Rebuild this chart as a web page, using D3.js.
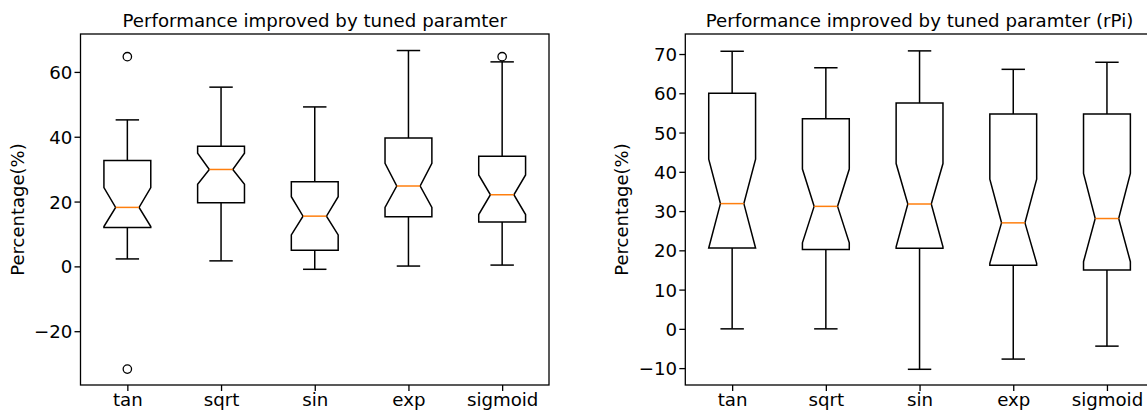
<!DOCTYPE html>
<html>
<head>
<meta charset="utf-8">
<script src="https://cdn.jsdelivr.net/npm/d3@7"></script>
<style>
  html, body { margin: 0; padding: 0; background: #fff; }
  svg { display: block; font-family: "DejaVu Sans", sans-serif; }
</style>
</head>
<body>
<svg id="chart" width="1147" height="410"></svg>
<script>
// ---------- data ----------
const categories = ["tan", "sqrt", "sin", "exp", "sigmoid"];

// Left panel: "Performance improved by tuned paramter"
const leftTitle = "Performance improved by tuned paramter";
const leftWhiskerLow  = [2.3, 1.7, -0.9, 0.1, 0.4];
const leftQ1          = [12.0, 19.6, 5.0, 15.3, 13.7];
const leftNotchLow    = [12.3, 25.3, 9.7, 18.2, 16.0];
const leftMedian      = [18.2, 29.9, 15.5, 24.8, 22.1];
const leftNotchHigh   = [24.3, 34.9, 21.5, 31.8, 28.2];
const leftQ3          = [32.7, 37.1, 26.1, 39.6, 34.0];
const leftWhiskerHigh = [45.2, 55.3, 49.2, 66.6, 63.1];
const leftOutliers    = [[64.7, -31.7], [], [], [], [64.7]];
const leftYTicks      = [-20, 0, 20, 40, 60];
const leftYLim        = [-36.6, 71.7];

// Right panel: "Performance improved by tuned paramter (rPi)"
const rightTitle = "Performance improved by tuned paramter (rPi)";
const rightWhiskerLow  = [0.0, 0.0, -10.3, -7.7, -4.4];
const rightQ1          = [20.6, 20.2, 20.5, 16.2, 15.0];
const rightNotchLow    = [20.6, 21.9, 20.9, 16.7, 17.1];
const rightMedian      = [31.9, 31.2, 31.8, 27.0, 28.1];
const rightNotchHigh   = [43.2, 40.7, 42.1, 38.1, 39.6];
const rightQ3          = [60.0, 53.5, 57.5, 54.7, 54.7];
const rightWhiskerHigh = [70.7, 66.5, 70.8, 66.1, 67.9];
const rightOutliers    = [[], [], [], [], []];
const rightYTicks      = [-10, 0, 10, 20, 30, 40, 50, 60, 70];
const rightYLim        = [-14.3, 75.1];

const yLabel = "Percentage(%)";

// ---------- drawing ----------
const svg = d3.select("#chart");
const plotTop = 34, plotBottom = 385;
const fontPx = "18.2px";

function panel(opts) {
  const { left, right, title, wl, q1, nl, med, nh, q3, wh, outl, yTicks, yLim } = opts;
  const g = svg.append("g");
  const x = d3.scaleLinear().domain([0.5, categories.length + 0.5]).range([left, right]);
  const y = d3.scaleLinear().domain(yLim).range([plotBottom, plotTop]);
  const boxW = 0.5, capW = 0.25;

  const data = categories.map((c, i) => ({
    c, pos: i + 1, wl: wl[i], q1: q1[i], nl: nl[i], med: med[i], nh: nh[i], q3: q3[i], wh: wh[i], out: outl[i]
  }));

  // y axis
  const yAxis = d3.axisLeft(y).tickValues(yTicks).tickSize(6).tickPadding(2.2).tickFormat(d3.format("d"));
  const ya = g.append("g").attr("transform", `translate(${left},0)`).call(yAxis);
  // x axis
  const xAxis = d3.axisBottom(x).tickValues(data.map(d => d.pos)).tickSize(6).tickPadding(1.8)
    .tickFormat((d, i) => categories[i]);
  const xa = g.append("g").attr("transform", `translate(0,${plotBottom})`).call(xAxis);
  [ya, xa].forEach(a => {
    a.select(".domain").remove();
    a.selectAll(".tick line").attr("stroke", "#000").attr("stroke-width", 1.3);
    a.selectAll(".tick text").attr("fill", "#000").style("font-size", fontPx)
      .style("font-family", "'DejaVu Sans', sans-serif");
  });
  ya.selectAll(".tick text").attr("dy", "0.36em");

  // frame
  g.append("rect").attr("x", left).attr("y", plotTop).attr("width", right - left).attr("height", plotBottom - plotTop)
    .attr("fill", "none").attr("stroke", "#000").attr("stroke-width", 1.3);

  // boxes
  const bx = g.selectAll(".box").data(data).join("g").attr("class", "box");
  const line = d3.line();
  // whiskers
  bx.append("line").attr("x1", d => x(d.pos)).attr("x2", d => x(d.pos))
    .attr("y1", d => y(d.q1)).attr("y2", d => y(d.wl)).attr("stroke", "#000").attr("stroke-width", 1.5);
  bx.append("line").attr("x1", d => x(d.pos)).attr("x2", d => x(d.pos))
    .attr("y1", d => y(d.q3)).attr("y2", d => y(d.wh)).attr("stroke", "#000").attr("stroke-width", 1.5);
  // caps
  bx.append("line").attr("x1", d => x(d.pos - capW / 2)).attr("x2", d => x(d.pos + capW / 2))
    .attr("y1", d => y(d.wl)).attr("y2", d => y(d.wl)).attr("stroke", "#000").attr("stroke-width", 1.5);
  bx.append("line").attr("x1", d => x(d.pos - capW / 2)).attr("x2", d => x(d.pos + capW / 2))
    .attr("y1", d => y(d.wh)).attr("y2", d => y(d.wh)).attr("stroke", "#000").attr("stroke-width", 1.5);
  // notched box
  bx.append("path").attr("d", d => {
    const l = x(d.pos - boxW / 2), r = x(d.pos + boxW / 2);
    const cl = x(d.pos - boxW / 4), cr = x(d.pos + boxW / 4);
    return line([
      [l, y(d.q1)], [l, y(d.nl)], [cl, y(d.med)], [l, y(d.nh)], [l, y(d.q3)],
      [r, y(d.q3)], [r, y(d.nh)], [cr, y(d.med)], [r, y(d.nl)], [r, y(d.q1)]
    ]) + "Z";
  }).attr("fill", "none").attr("stroke", "#000").attr("stroke-width", 1.5).attr("stroke-linejoin", "miter");
  // median
  bx.append("line").attr("x1", d => x(d.pos - boxW / 4)).attr("x2", d => x(d.pos + boxW / 4))
    .attr("y1", d => y(d.med)).attr("y2", d => y(d.med)).attr("stroke", "#ff7f0e").attr("stroke-width", 1.5);
  // outliers
  bx.selectAll("circle").data(d => d.out.map(v => ({ pos: d.pos, v }))).join("circle")
    .attr("cx", d => x(d.pos)).attr("cy", d => y(d.v)).attr("r", 4.2)
    .attr("fill", "none").attr("stroke", "#000").attr("stroke-width", 1.3);

  // title
  g.append("text").attr("x", (left + right) / 2).attr("y", 27.3).attr("text-anchor", "middle")
    .style("font-size", fontPx).attr("fill", "#000").text(title);
  // y label
  g.append("text").attr("transform", `translate(${left - 57},${(plotTop + plotBottom) / 2}) rotate(-90)`)
    .attr("text-anchor", "middle").style("font-size", "18px").attr("fill", "#000").text(yLabel);
}

panel({ left: 80.5, right: 549, title: leftTitle, wl: leftWhiskerLow, q1: leftQ1, nl: leftNotchLow,
  med: leftMedian, nh: leftNotchHigh, q3: leftQ3, wh: leftWhiskerHigh, outl: leftOutliers,
  yTicks: leftYTicks, yLim: leftYLim });
panel({ left: 685.3, right: 1153.8, title: rightTitle, wl: rightWhiskerLow, q1: rightQ1, nl: rightNotchLow,
  med: rightMedian, nh: rightNotchHigh, q3: rightQ3, wh: rightWhiskerHigh, outl: rightOutliers,
  yTicks: rightYTicks, yLim: rightYLim });
</script>
</body>
</html>
